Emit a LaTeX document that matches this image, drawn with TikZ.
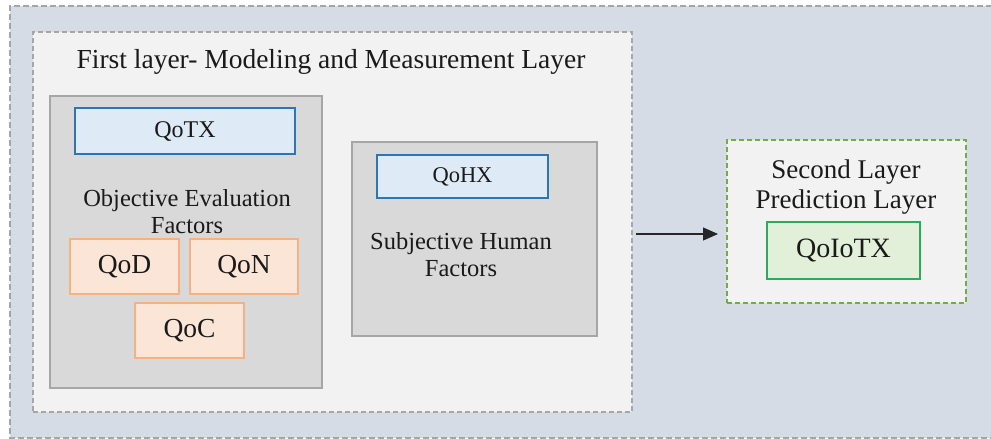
\documentclass[tikz,border=0pt]{standalone}
\usepackage{fontspec}
\setmainfont{Liberation Serif}
\usetikzlibrary{arrows.meta}
\definecolor{bgblue}{HTML}{D6DCE5}
\definecolor{panel}{HTML}{F2F2F2}
\definecolor{panelborder}{HTML}{A6A6A6}
\definecolor{groupfill}{HTML}{D9D9D9}
\definecolor{bluefill}{HTML}{DEEBF7}
\definecolor{blueline}{HTML}{2E75B6}
\definecolor{orangefill}{HTML}{FBE5D6}
\definecolor{orangeline}{HTML}{F4B183}
\definecolor{greenfill}{HTML}{E2F0D9}
\definecolor{greenline}{HTML}{70AD47}
\definecolor{darkgreen}{HTML}{2EAA5C}
\definecolor{textcol}{HTML}{1A1A1A}
\begin{document}
\begin{tikzpicture}[x=1pt,y=-1pt,
  boxat/.style={anchor=north west,inner sep=0pt,outer sep=0pt},
  framedash/.style={draw=panelborder,line width=1.6pt,dash pattern=on 6pt off 3pt},
  dashpanel/.style={boxat,fill=panel,draw=panelborder,line width=1.6pt,dash pattern=on 5pt off 3pt},
  grouppanel/.style={boxat,fill=groupfill,draw=panelborder,line width=1.8pt},
  bluebox/.style={boxat,fill=bluefill,draw=blueline,line width=1.6pt,text=textcol},
  orangebox/.style={boxat,fill=orangefill,draw=orangeline,line width=1.8pt,font=\fontsize{27.5}{30}\selectfont,text=textcol},
  greenbox/.style={boxat,fill=greenfill,draw=darkgreen,line width=2pt,font=\fontsize{28}{30}\selectfont,text=textcol},
  label/.style={align=center,text=textcol,inner sep=0pt},
  link/.style={-{Triangle[length=15pt,width=13pt]},line width=1.1pt,draw=black!85}
]
\useasboundingbox (0,0) rectangle (991,439);
\fill[white] (0,0) rectangle (991,439);

% outer frame, open on the right where it runs past the page edge
\fill[bgblue] (10,6) rectangle (1010,438);
\draw[framedash] (1010,6) -- (10,6) -- (10,438) -- (1010,438);

% first layer
\node[dashpanel,minimum width=599pt,minimum height=380pt] (first) at (33,32) {};
\node[label,font=\fontsize{27.5}{30}\selectfont] (firsttitle) at (331,62) {First layer- Modeling and Measurement Layer};

% objective group
\node[grouppanel,minimum width=272pt,minimum height=292pt] (objective) at (50,96) {};
\node[bluebox,minimum width=220pt,minimum height=46pt,font=\fontsize{24}{26}\selectfont] (qotx) at (75,108) {QoTX};
\node[label,font=\fontsize{24.5}{27}\selectfont] (objlabel) at (187,212) {Objective Evaluation\\Factors};
\node[orangebox,minimum width=109pt,minimum height=55pt] (qod) at (70,239) {QoD};
\node[orangebox,minimum width=108pt,minimum height=55pt] (qon) at (190,239) {QoN};
\node[orangebox,minimum width=109pt,minimum height=55pt] (qoc) at (135,303) {QoC};

% subjective group
\node[grouppanel,minimum width=245pt,minimum height=194pt] (subjective) at (352,142) {};
\node[bluebox,minimum width=171pt,minimum height=43pt,font=\fontsize{22.5}{25}\selectfont] (qohx) at (377,155) {QoHX};
\node[label,font=\fontsize{24.5}{27}\selectfont] (subjlabel) at (461,255) {Subjective Human\\Factors};

% second layer
\node[boxat,fill=panel,draw=greenline,line width=1.6pt,dash pattern=on 5pt off 3pt,
      minimum width=239pt,minimum height=163pt] (second) at (727,140) {};
\node[label,font=\fontsize{27}{30}\selectfont] (secondtitle) at (846,187) {Second Layer\\Prediction Layer};
\node[greenbox,minimum width=153pt,minimum height=57pt] (qoiotx) at (767,222) {QoIoTX};

% flow between layers
\draw[link,shorten <=4pt,shorten >=9pt] ([yshift=-12pt]first.east) -- ([yshift=-12.5pt]second.west);
\end{tikzpicture}
\end{document}
